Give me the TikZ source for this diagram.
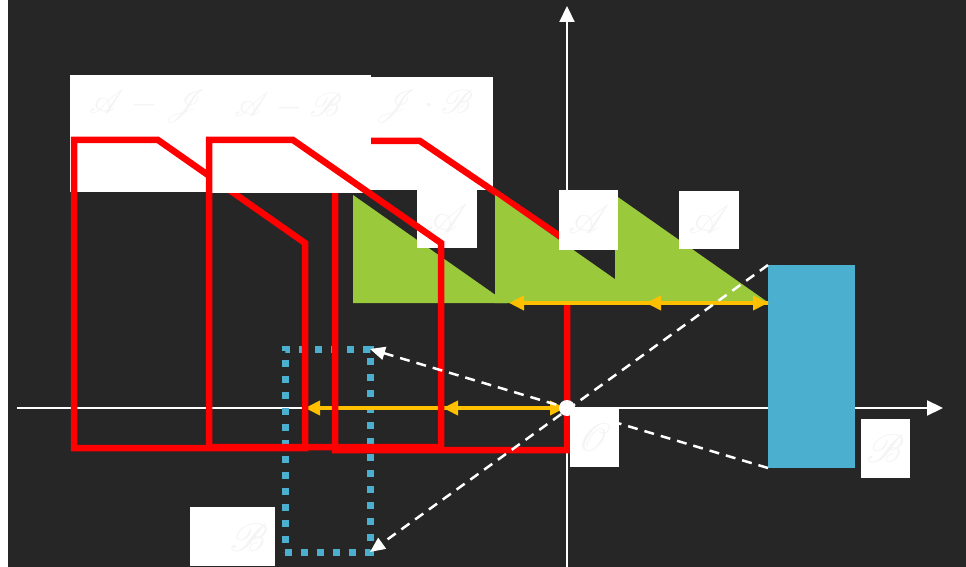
\documentclass[tikz,border=0pt]{standalone}
\usepackage{mathrsfs}
\usetikzlibrary{arrows.meta}
\definecolor{bgc}{HTML}{262626}
\definecolor{redc}{HTML}{FF0000}
\definecolor{greenc}{HTML}{9ACA3C}
\definecolor{bluec}{HTML}{4BAFCF}
\definecolor{orangec}{HTML}{FFC000}
\definecolor{ghost}{HTML}{F4F4F4}
\begin{document}
\begin{tikzpicture}[x=1bp,y=-1bp,
  wbox/.style={fill=white, draw=none, inner sep=0pt, outer sep=0pt, anchor=north west},
  ghosttext/.style={text=ghost, inner sep=0pt, font=\Huge, scale=1.6},
  headtext/.style={text=ghost, inner sep=0pt, font=\Huge, scale=1.35},
  axisline/.style={draw=white, line width=2.2bp, -{Triangle[length=16bp,width=15bp]}},
  framebox/.style={draw=redc, line width=6.5bp, line join=miter},
  oline/.style={draw=orangec, line width=4bp},
  otip/.tip={Triangle[length=15bp,width=14bp]},
  dsh/.style={draw=white, line width=2.5bp, dash pattern=on 10bp off 7bp, -{Triangle[length=15bp,width=13bp]}},
  greentri/.style={fill=greenc}
]
\useasboundingbox (0,0) rectangle (966,567);
\fill[white] (0,0) rectangle (966,567);
\fill[bgc] (8,0) rectangle (966,567);

% coordinates
\coordinate (o) at (567,408);
\coordinate (xs) at (17,408);
\coordinate (xe) at (943,408);
\coordinate (ys) at (567,567);
\coordinate (ye) at (567,6);
\coordinate (L1) at (305,408);
\coordinate (L2) at (443,408);
\coordinate (L3) at (565,408);
\coordinate (U1) at (509,303);
\coordinate (U2) at (646,303);
\coordinate (U3) at (768,303);

% axes
\draw[axisline] (xs) -- (xe);
\draw[axisline] (ys) -- (ye);

% object and image
\node[fill=bluec, inner sep=0pt, outer sep=0pt, minimum width=87bp, minimum height=203bp, anchor=north west] (obj) at (768,265) {};
\node[draw=bluec, line width=7bp, dash pattern=on 7bp off 9bp, inner sep=0pt, outer sep=0pt, minimum width=85bp, minimum height=203bp, anchor=north west] (img) at (285,349) {};

% lower orange arrows
\draw[oline, {otip}-] (L1) -- (L3);
\draw[oline, {otip}-{otip}] (L2) -- (L3);

% header box A and frame 1
\node[wbox, minimum width=137bp, minimum height=117bp] (hA) at (70,75) {};
\node[headtext] (tA) at (148,106) {$\mathscr{A}-\mathscr{J}$};
\draw[framebox] (74,140) -- (158,140) -- (305,243) -- (305,448) -- (74,448) -- cycle;

% header box C and frame 3
\node[wbox, minimum width=122bp, minimum height=113bp] (hC) at (371,77) {};
\node[headtext] (tC) at (424,106) {$\mathscr{J}\cdot\mathscr{B}$};
\draw[framebox] (335,141) -- (420,141) -- (567,241) -- (567,450) -- (335,450) -- cycle;

% green triangles
\fill[greentri] (353,195) -- (353,303) -- (507,303) -- cycle;
\fill[greentri] (495,195) -- (495,303) -- (649,303) -- cycle;
\fill[greentri] (615,195) -- (615,303) -- (769,303) -- cycle;

% labels on triangles
\node[wbox, minimum width=60bp, minimum height=58bp] (a1) at (417,190) {};
\node[ghosttext] (ta1) at (a1.center) {$\mathscr{A}$};
\node[wbox, minimum width=59bp, minimum height=60bp] (a2) at (559,190) {};
\node[ghosttext] (ta2) at (a2.center) {$\mathscr{A}$};
\node[wbox, minimum width=60bp, minimum height=58bp] (a3) at (679,191) {};
\node[ghosttext] (ta3) at (a3.center) {$\mathscr{A}$};

% upper orange arrows
\draw[oline, {otip}-] (U1) -- (U3);
\draw[oline, {otip}-{otip}] (U2) -- (U3);

% header box B and frame 2
\node[wbox, minimum width=164bp, minimum height=118bp] (hB) at (207,75) {};
\node[headtext] (tB) at (288,106) {$\mathscr{A}-\mathscr{B}$};
\draw[framebox] (209,140) -- (293,140) -- (441,243) -- (441,447) -- (209,447) -- cycle;

% dashed rays
\draw[dsh] (obj.north west) -- (img.south east);
\draw[dsh] (obj.south west) -- (img.north east);
\node[circle, fill=white, minimum size=16bp, inner sep=0pt] (dot) at (o) {};

% other labels
\node[wbox, minimum width=49bp, minimum height=59bp] (lO) at (570,408) {};
\node[ghosttext] (tO) at (lO.center) {$\mathscr{O}$};
\node[wbox, minimum width=49bp, minimum height=59bp] (lB) at (861,419) {};
\node[ghosttext] (tB2) at (lB.center) {$\mathscr{B}$};
\node[wbox, minimum width=85bp, minimum height=59bp] (lBp) at (190,507) {};
\node[ghosttext] (tBp) at (249,538) {$\mathscr{B}$};
\end{tikzpicture}
\end{document}
